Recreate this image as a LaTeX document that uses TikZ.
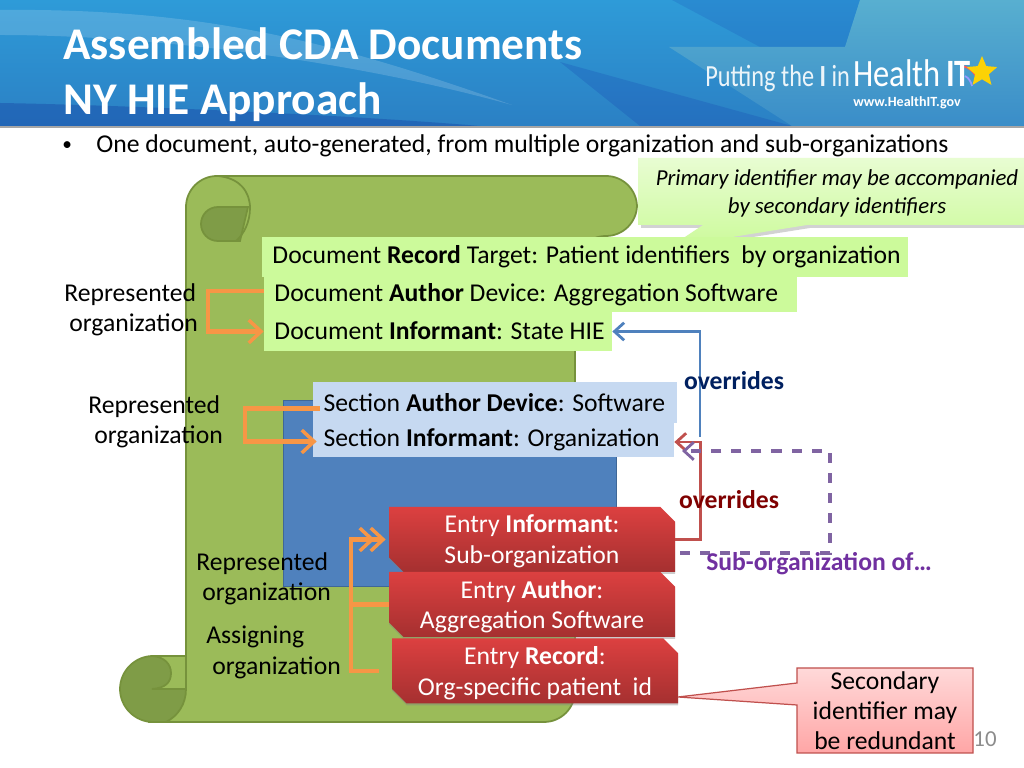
\documentclass[tikz,border=0pt]{standalone}
\usepackage{fontspec}
\setmainfont{Carlito}
\usetikzlibrary{arrows.meta,shapes.geometric,shapes.misc,shadows}
\newcommand{\px}{0.2mm}
% one left aligned line in a box of the given width
\newcommand{\boxline}[2]{\makebox[#1][l]{\hspace*{2.1mm}#2}}
\definecolor{bandtop}{HTML}{2E9BD8}
\definecolor{bandlow}{HTML}{2B80C4}
\definecolor{bandlight}{HTML}{58AFD0}
\definecolor{bandmid}{HTML}{3A8DC8}
\definecolor{scrollgreen}{HTML}{9BBB59}
\definecolor{scrolldark}{HTML}{7F9C47}
\definecolor{scrollline}{HTML}{76923C}
\definecolor{docgreen}{HTML}{CCFA9B}
\definecolor{sectblue}{HTML}{C6D9F1}
\definecolor{pageblue}{HTML}{4F81BD}
\definecolor{orangeline}{HTML}{F79646}
\definecolor{overblue}{HTML}{002060}
\definecolor{overred}{HTML}{7F0000}
\definecolor{subpurple}{HTML}{7030A0}
\definecolor{dashpurple}{HTML}{8064A2}
\definecolor{linered}{HTML}{C0504D}
\definecolor{entryred}{HTML}{DC4040}
\tikzset{
  bodytext/.style={font=\fontsize{14.6}{17}\selectfont, text=black, inner sep=0pt},
  sidelabel/.style={bodytext, align=left, font=\fontsize{14.6}{17.1}\selectfont},
  entrybox/.style={bodytext, text=white, align=center, chamfered rectangle,
    chamfered rectangle corners={north east,south west}, chamfered rectangle xsep=9*\px,
    top color=entryred, bottom color=entryred!75!black,
    minimum width=286*\px, minimum height=65*\px, text depth=0pt,
    font=\fontsize{14.6}{17.6}\selectfont,
    drop shadow={shadow xshift=0pt, shadow yshift=-1pt, opacity=0.4}},
  elbow/.style={draw=orangeline, line width=2.4pt, -{Straight Barb[length=7pt,width=13pt,line width=2pt]}},
  overline/.style={line width=1.6pt, -{Straight Barb[length=5.5pt,width=10pt,line width=1.6pt]}},
  overlabel/.style={font=\fontsize{14.6}{17}\bfseries\selectfont, inner sep=0pt},
}
\begin{document}
\begin{tikzpicture}[x=\px, y=-\px]
  \useasboundingbox (0,0) rectangle (1024,768);
  \fill[white] (0,0) rectangle (1024,768);

  % Header band
  \shade[top color=bandtop, bottom color=bandlow] (0,0) rectangle (1024,126);
  \fill[white, opacity=0.16] (0,10) .. controls (200,8) and (330,40) .. (512,105) .. controls (350,60) and (150,35) .. (0,35) -- cycle;
  \fill[blue!50!black, opacity=0.2] (0,103) .. controls (120,105) and (350,115) .. (480,126) -- (0,126) -- cycle;
  \fill[blue!60!black, opacity=0.1] (672,0) -- (860,0) -- (845,47) -- (760,47) -- cycle;
  \fill[blue!60!black, opacity=0.12] (560,62) -- (792,126) -- (640,126) -- cycle;
  \shade[top color=bandlight, bottom color=bandmid] (860,0) -- (1024,0) -- (1024,126) -- (792,126) -- (669,47) -- (845,47) -- cycle;
  \fill[black!35] (0,126) rectangle (1024,128);

  % Title and logo
  \node[text=white, align=left, anchor=north west, inner sep=0pt, font=\fontsize{25.8}{31.3}\bfseries\selectfont] (title) at (63,27) {Assembled CDA Documents\\NY HIE Approach};
  \draw[red!65!white, line width=1pt] (962,66) .. controls (968,67) and (972,70) .. (976,76);
  \draw[blue!40!white, line width=1pt] (965,76) .. controls (969,78) and (971,82) .. (972,86);
  \node[text=white, opacity=0.9, anchor=base west, inner sep=0pt, font=\fontsize{17.5}{18}\selectfont] (logo) at (705,87) {\scalebox{.79}[1]{Putting the \textbf{I} in}};
  \node[text=white, anchor=base west, inner sep=0pt, font=\fontsize{22}{23}\selectfont] (logobig) at (853,87) {\scalebox{.84}[1]{Health\,\textbf{IT}}};
  \node[star, star points=5, star point ratio=2.2, fill=yellow!70!orange, minimum size=32*\px, inner sep=0pt] (logostar) at (982,72) {};
  \node[text=white, inner sep=0pt, font=\fontsize{8}{9}\bfseries\selectfont] (logourl) at (907,103) {www.HealthIT.gov};

  % Bullet line
  \node[bodytext, anchor=west] (bullet) at (62,146) {\fontsize{11}{11}\selectfont •};
  \node[bodytext, anchor=west] (intro) at (96,146) {One document, auto-generated, from multiple organization and sub-organizations};

  % Scroll
  \filldraw[fill=scrollgreen, draw=scrollline, line width=1pt] (186,689) [rounded corners=6.2mm] -- (186,176) -- (637,176) -- (637,236) -- (575,236) -- (575,722) [sharp corners] -- (150,722) -- (186,689) -- cycle;
  % top curl
  \filldraw[fill=scrolldark, draw=scrollline, line width=1pt] (248,207) -- (218,207) .. controls (208,207) and (201,215) .. (201,224) .. controls (201,233) and (208,241) .. (218,241) -- (240,241) -- cycle;
  \draw[scrollline, line width=1pt] (218,176) .. controls (240,178) and (250,192) .. (250,208) .. controls (250,222) and (244,234) .. (236,241);
  % bottom curl
  \filldraw[fill=scrollgreen, draw=scrollline, line width=1pt] (153,656) -- (186,656) -- (186,690) -- (153,690) -- cycle;
  \filldraw[fill=scrolldark, draw=scrollline, line width=1pt] (153,656) .. controls (135,656) and (120,671) .. (120,689) .. controls (120,707) and (135,722) .. (153,722)
    -- (166,722) .. controls (178,716) and (186,704) .. (186,689) -- (152,689) .. controls (166,688) and (171,682) .. (171,673) .. controls (171,664) and (164,657) .. (153,656) -- cycle;

  % Section rectangle
  \node[draw=pageblue!80!black, fill=pageblue, minimum width=333*\px, minimum height=186*\px, inner sep=0pt] (sectpage) at (449.5,493) {};

  % Callout over the document record
  \fill[black!50, opacity=0.35] (641,161) -- (1024,161) -- (1024,228) -- (810,228) -- (671,250) -- (706,228) -- (641,228) -- cycle;
  \shade[top color=docgreen!45!white, bottom color=docgreen] (638,158) -- (1024,158) -- (1024,225) -- (807,225) -- (670,247) -- (703,225) -- (638,225) -- cycle;
  \node[align=center, inner sep=0pt, font=\fontsize{13}{16}\itshape\selectfont] (primarynote) at (837,193.5) {Primary identifier may be accompanied\\by secondary identifiers};

  % Document boxes
  \node[bodytext, fill=docgreen, minimum height=40*\px] (docrecord) at (585,257) {\raisebox{-1.1pt}{\boxline{129.2mm}{Document \textbf{Record} Target: Patient identifiers~ by organization}}};
  \node[bodytext, fill=docgreen, minimum height=35*\px] (docauthor) at (530.5,294.5) {\raisebox{0.5pt}{\boxline{106.6mm}{Document \textbf{Author} Device: Aggregation Software}}};
  \node[bodytext, fill=docgreen, minimum height=39*\px] (docinformant) at (438,331.5) {\raisebox{0.5pt}{\boxline{69.6mm}{Document \textbf{Informant}: State HIE}}};

  % Section boxes
  \node[bodytext, fill=sectblue, minimum height=41*\px] (sectauthor) at (495,402.5) {\raisebox{-1.1pt}{\boxline{72.8mm}{Section \textbf{Author Device}: Software}}};
  \node[bodytext, fill=sectblue, minimum height=35*\px] (sectinformant) at (493.5,439.5) {\raisebox{0.5pt}{\boxline{72.2mm}{Section \textbf{Informant}: Organization}}};

  % Entry boxes
  \node[entrybox] (entryinformant) at (532,539.5) {Entry \textbf{Informant}:\\Sub-organization};
  \node[entrybox] (entryauthor) at (532,604.5) {Entry \textbf{Author}:\\Aggregation Software};
  \node[entrybox] (entryrecord) at (535,671) {Entry \textbf{Record}:\\Org-specific patient~ id};

  % Side labels
  \node[sidelabel, anchor=north west] (replabela) at (64,283) {Represented\\\hspace*{1mm}organization};
  \node[sidelabel, anchor=north west] (replabelb) at (88,395) {Represented\\\hspace*{1.2mm}organization};
  \node[sidelabel, anchor=north west] (replabelc) at (196,552) {Represented\\\hspace*{1.2mm}organization};
  \node[sidelabel, anchor=north west] (assignlabel) at (206,626) {Assigning\\\hspace*{1.2mm}organization};

  % Orange elbows
  \draw[elbow] ([yshift=3.5*\px]docauthor.west) -- ++(-56,0) |- (docinformant.west);
  \draw[elbow] ([xshift=7*\px,yshift=-6*\px]sectauthor.west) -- ++(-75,0) |- ([xshift=4*\px,yshift=-2*\px]sectinformant.west);
  \draw[elbow, shorten >=3*\px] (entryauthor.west) -- ++(-38,0) |- (entryinformant.west);
  \draw[elbow, shorten >=14*\px, shorten <=13*\px] (entryrecord.west) -- ++(-41,0) |- (entryinformant.west);

  % Override connectors
  \coordinate (bluestart) at (700,437);
  \coordinate (purplestart) at (680,553);
  \coordinate (purpletip) at (682,451);
  \draw[overline, draw=pageblue] (bluestart) |- (docinformant.east);
  \draw[overline, draw=linered] (entryinformant.east) -- ++(25,0) |- ([yshift=-2.5*\px]sectinformant.east);
  \draw[overline, draw=dashpurple, line width=2pt, dash pattern=on 5.7pt off 5.7pt] (purplestart) -- (830,553) |- (purpletip);
  \node[overlabel, text=overblue] (overblabel) at (734,381) {overrides};
  \node[overlabel, text=overred] (overrlabel) at (729,500) {overrides};
  \node[overlabel, text=subpurple] (sublabel) at (819,564) {Sub-organization of…};

  % Redundant note
  \node[text=black!45, inner sep=0pt, font=\fontsize{13}{15}\selectfont] (pagenum) at (985,739) {10};
  \shade[top color=red!15!white, bottom color=red!35!white] (797,668) -- (973,668) -- (973,753) -- (797,753) -- (797,705) -- (678,697) -- (797,683) -- cycle;
  \draw[linered, line width=0.7pt] (797,668) -- (973,668) -- (973,753) -- (797,753) -- (797,705) -- (678,697) -- (797,683) -- cycle;
  \node[align=center, inner sep=0pt, font=\fontsize{14.6}{17.1}\selectfont] (secondnote) at (885,711) {Secondary\\identifier may\\be redundant};
\end{tikzpicture}
\end{document}
